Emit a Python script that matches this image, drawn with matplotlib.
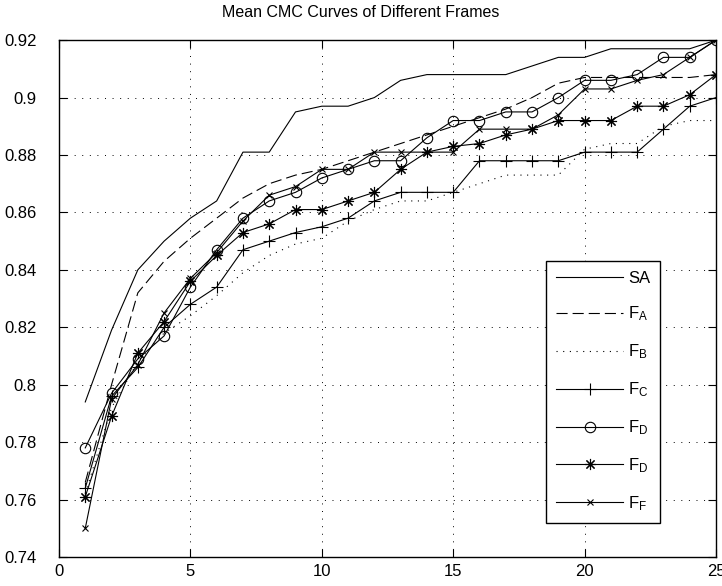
import matplotlib
matplotlib.use("Agg")
import matplotlib.pyplot as plt

plt.rcParams['font.family'] = ['Liberation Sans', 'DejaVu Sans']
plt.rcParams['mathtext.default'] = 'regular'

ranks = list(range(1, 26))

sa = [0.794, 0.819, 0.840, 0.850, 0.858, 0.864, 0.881, 0.881, 0.895, 0.897, 0.897, 0.900, 0.906,
      0.908, 0.908, 0.908, 0.908, 0.911, 0.914, 0.914, 0.917, 0.917, 0.917, 0.917, 0.920]
f_a = [0.766, 0.800, 0.832, 0.843, 0.851, 0.858, 0.865, 0.870, 0.873, 0.875, 0.878, 0.881, 0.884,
       0.887, 0.890, 0.893, 0.896, 0.900, 0.905, 0.907, 0.907, 0.907, 0.907, 0.907, 0.908]
f_b = [0.762, 0.792, 0.808, 0.818, 0.824, 0.831, 0.839, 0.845, 0.849, 0.851, 0.857, 0.861, 0.864,
       0.864, 0.867, 0.870, 0.873, 0.873, 0.873, 0.882, 0.884, 0.884, 0.890, 0.892, 0.892]
f_c = [0.764, 0.796, 0.806, 0.820, 0.828, 0.834, 0.847, 0.850, 0.853, 0.855, 0.858, 0.864, 0.867,
       0.867, 0.867, 0.878, 0.878, 0.878, 0.878, 0.881, 0.881, 0.881, 0.889, 0.897, 0.900]
f_d = [0.778, 0.797, 0.809, 0.817, 0.834, 0.847, 0.858, 0.864, 0.867, 0.872, 0.875, 0.878, 0.878,
       0.886, 0.892, 0.892, 0.895, 0.895, 0.900, 0.906, 0.906, 0.908, 0.914, 0.914, 0.920]
f_e = [0.761, 0.789, 0.811, 0.822, 0.836, 0.845, 0.853, 0.856, 0.861, 0.861, 0.864, 0.867, 0.875,
       0.881, 0.883, 0.884, 0.887, 0.889, 0.892, 0.892, 0.892, 0.897, 0.897, 0.901, 0.908]
f_f = [0.750, 0.795, 0.807, 0.825, 0.837, 0.846, 0.857, 0.866, 0.869, 0.875, 0.875, 0.881, 0.881,
       0.881, 0.881, 0.889, 0.889, 0.889, 0.894, 0.903, 0.903, 0.906, 0.908, 0.914, 0.920]

labels = ['SA', 'F$_{A}$', 'F$_{B}$', 'F$_{C}$', 'F$_{D}$', 'F$_{D}$', 'F$_{F}$']
xticks = [0, 5, 10, 15, 20, 25]
yticks = [0.74, 0.76, 0.78, 0.80, 0.82, 0.84, 0.86, 0.88, 0.90, 0.92]
ytick_labels = ['0.74', '0.76', '0.78', '0.8', '0.82', '0.84', '0.86', '0.88', '0.9', '0.92']

fig = plt.figure(figsize=(7.22, 5.86), dpi=100)
ax = fig.add_axes([0.0817, 0.0495, 0.91, 0.882])

lw = 0.8
ax.plot(ranks, sa, color='k', lw=lw, label=labels[0])
ax.plot(ranks, f_a, color='k', lw=lw, ls=(0, (10, 4.5)), label=labels[1])
ax.plot(ranks, f_b, color='k', lw=lw, ls=(0, (1, 5)), label=labels[2])
ax.plot(ranks, f_c, color='k', lw=lw, marker='+', ms=9, mew=lw, label=labels[3])
ax.plot(ranks, f_d, color='k', lw=lw, marker='o', ms=7.5, mfc='none', mew=lw, label=labels[4])
ax.plot(ranks, f_e, color='k', lw=lw, marker=(8, 2, 0), ms=8, mew=lw, label=labels[5])
ax.plot(ranks, f_f, color='k', lw=lw, marker='x', ms=5, mew=lw, label=labels[6])

ax.set_xlim(0, 25)
ax.set_ylim(0.74, 0.92)
ax.set_xticks(xticks)
ax.set_yticks(yticks)
ax.set_yticklabels(ytick_labels)
ax.tick_params(direction='in', top=True, right=True, labelsize=12, length=6, width=0.8)
ax.tick_params(axis='y', pad=16)
ax.tick_params(axis='x', pad=5)
ax.grid(True, color='k', ls=(0, (1, 6.8)), lw=0.7)
for s in ax.spines.values():
    s.set_linewidth(1.0)

fig.text(0.5, 0.979, 'Mean CMC Curves of Different Frames', fontsize=11.5,
         ha='center', va='center')

leg = ax.legend(loc='lower left', bbox_to_anchor=(0.729, 0.050), fontsize=12,
                handlelength=4.0, labelspacing=1.15, fancybox=False, framealpha=1,
                edgecolor='k', borderpad=0.6, handletextpad=0.3)
leg.get_frame().set_linewidth(1.0)

fig.savefig('out.png', dpi=100)
